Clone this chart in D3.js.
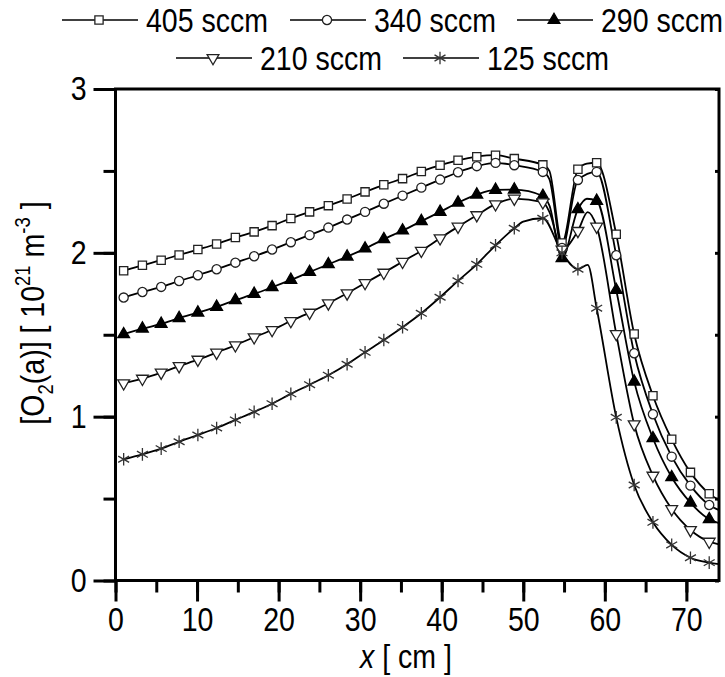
<!DOCTYPE html>
<html>
<head>
<meta charset="utf-8">
<script src="https://cdn.jsdelivr.net/npm/d3@7"></script>
<style>
  html, body { margin: 0; padding: 0; background: #fff; }
  svg text { font-family: "Liberation Sans", Arial, sans-serif; fill: #000; }
</style>
</head>
<body>
<div id="chart"></div>
<script>
// marker positions along the tube [cm], shared by every flow rate
const xs = [1.0, 3.3, 5.6, 7.8, 10.1, 12.4, 14.7, 17.0, 19.2, 21.5, 23.8, 26.1, 28.4, 30.6, 32.9,
  35.2, 37.5, 39.8, 42.0, 44.3, 46.6, 48.9, 52.4, 54.75, 56.7, 59.0, 61.4, 63.6, 65.9, 68.2, 70.5, 72.8];

const y405 = [1.891, 1.924, 1.955, 1.987, 2.02, 2.054, 2.093, 2.128, 2.166, 2.21, 2.25, 2.288, 2.329, 2.372, 2.415,
  2.453, 2.496, 2.535, 2.565, 2.587, 2.596, 2.575, 2.537, 2.06, 2.51, 2.55, 2.113, 1.505, 1.128, 0.862, 0.66, 0.53];
const y340 = [1.727, 1.761, 1.792, 1.828, 1.863, 1.90, 1.94, 1.979, 2.02, 2.065, 2.108, 2.154, 2.203, 2.25, 2.30,
  2.349, 2.398, 2.447, 2.492, 2.529, 2.549, 2.535, 2.494, 2.03, 2.445, 2.494, 1.985, 1.387, 1.015, 0.756, 0.579, 0.461];
const y290 = [1.503, 1.537, 1.566, 1.601, 1.635, 1.67, 1.711, 1.749, 1.79, 1.835, 1.883, 1.93, 1.977, 2.026, 2.083,
  2.136, 2.193, 2.25, 2.306, 2.355, 2.384, 2.386, 2.347, 1.967, 2.266, 2.317, 1.773, 1.214, 0.868, 0.63, 0.475, 0.374];
const y210 = [1.204, 1.232, 1.269, 1.309, 1.348, 1.391, 1.436, 1.485, 1.529, 1.584, 1.635, 1.692, 1.753, 1.816, 1.879,
  1.946, 2.013, 2.089, 2.16, 2.23, 2.297, 2.331, 2.309, 2.02, 2.134, 2.16, 1.505, 0.954, 0.64, 0.436, 0.308, 0.237];
const y125 = [0.74, 0.77, 0.805, 0.847, 0.888, 0.931, 0.98, 1.029, 1.079, 1.139, 1.195, 1.253, 1.32, 1.393, 1.468,
  1.546, 1.631, 1.729, 1.829, 1.93, 2.046, 2.15, 2.211, 2.0, 1.90, 1.662, 0.996, 0.583, 0.355, 0.217, 0.139, 0.109];

// unmarked vertices of the drawn curves [x, y]
const bend405 = [[53.2, 2.50], [57.8, 2.545], [74.0, 0.49]];
const bend340 = [[53.2, 2.45], [74.0, 0.43]];
const bend290 = [[53.2, 2.29], [57.8, 2.33], [74.0, 0.35]];
const bend210 = [[53.2, 2.25], [57.9, 2.248], [74.0, 0.22]];
const bend125 = [[50.0, 2.19], [57.9, 1.926], [74.0, 0.10]];

const seriesNames = ['405 sccm', '340 sccm', '290 sccm', '210 sccm', '125 sccm'];
const xTicks = [0, 10, 20, 30, 40, 50, 60, 70];
const yTicks = [0, 1, 2, 3];

const W = 725, H = 677;
const margin = { top: 89, right: 6, bottom: 96.5, left: 115.5 };
const FONT = '34px';
const SQ = 0.84; // horizontal squeeze, the source font is a narrow face

const svg = d3.select('#chart').append('svg')
  .attr('width', W)
  .attr('height', H);

const x = d3.scaleLinear().domain([0, 74]).range([margin.left, W - margin.right]);
const y = d3.scaleLinear().domain([0, 3]).range([H - margin.bottom, margin.top]);

// custom symbols
const asterisk = {
  draw(ctx, size) {
    const r = Math.sqrt(size) / 2;
    for (let k = 0; k < 3; k++) {
      const a = Math.PI / 2 + k * Math.PI / 3;
      ctx.moveTo(r * Math.cos(a), r * Math.sin(a));
      ctx.lineTo(-r * Math.cos(a), -r * Math.sin(a));
    }
  }
};
const triDown = {
  draw(ctx, size) {
    const s = Math.sqrt(size * 4 / Math.sqrt(3));
    const h = s * Math.sqrt(3) / 2;
    ctx.moveTo(-s / 2, -h / 3);
    ctx.lineTo(s / 2, -h / 3);
    ctx.lineTo(0, 2 * h / 3);
    ctx.closePath();
  }
};

const styles = [
  { type: d3.symbolSquare, size: 68, fill: '#fff', stroke: '#222' },
  { type: d3.symbolCircle, size: 66, fill: '#fff', stroke: '#222' },
  { type: d3.symbolTriangle, size: 60, fill: '#000', stroke: '#000' },
  { type: triDown, size: 60, fill: '#fff', stroke: '#222' },
  { type: asterisk, size: 160, fill: 'none', stroke: '#333' }
];

const ySets = [y405, y340, y290, y210, y125];
const bends = [bend405, bend340, bend290, bend210, bend125];

const series = seriesNames.map((name, i) => {
  const marks = xs.map((xv, j) => [xv, ySets[i][j]]);
  const path = marks.concat(bends[i]).sort((a, b) => a[0] - b[0]);
  return { name, marks, path, style: styles[i] };
});

const line = d3.line()
  .x(d => x(d[0]))
  .y(d => y(d[1]))
  .curve(d3.curveMonotoneX);

const plot = svg.append('g');
plot.append('clipPath').attr('id', 'clip')
  .append('rect')
  .attr('x', margin.left).attr('y', margin.top)
  .attr('width', W - margin.right - margin.left)
  .attr('height', H - margin.bottom - margin.top);

const inner = plot.append('g').attr('clip-path', 'url(#clip)');

inner.selectAll('.curve')
  .data(series)
  .join('path')
  .attr('class', 'curve')
  .attr('d', d => line(d.path))
  .attr('fill', 'none')
  .attr('stroke', '#000')
  .attr('stroke-width', 1.8);

series.forEach(s => {
  const sym = d3.symbol().type(s.style.type).size(s.style.size);
  inner.append('g').selectAll('path')
    .data(s.marks)
    .join('path')
    .attr('transform', d => `translate(${x(d[0])},${y(d[1])})`)
    .attr('d', sym())
    .attr('fill', s.style.fill)
    .attr('stroke', s.style.stroke)
    .attr('stroke-width', 1.3);
});

// axes
const xMinor = d3.range(0, 75, 5);
const yMinor = d3.range(0, 3.01, 0.5);

const xAxisMinor = d3.axisBottom(x).tickValues(xMinor).tickSize(12).tickFormat('');
const xAxis = d3.axisBottom(x).tickValues(xTicks).tickSize(21).tickPadding(5).tickFormat(d3.format('d'));
const yAxisMinor = d3.axisLeft(y).tickValues(yMinor).tickSize(12).tickFormat('');
const yAxis = d3.axisLeft(y).tickValues(yTicks).tickSize(22).tickPadding(7).tickFormat(d3.format('d'));
const yRight = d3.axisLeft(y).tickValues(yMinor).tickSize(4).tickFormat('');

function styleAxis(g) {
  g.select('.domain').remove();
  g.selectAll('line').attr('stroke', '#000').attr('stroke-width', 3);
  g.selectAll('text')
    .style('font-size', FONT)
    .attr('x', function () { return (+d3.select(this).attr('x') || 0) / SQ; })
    .attr('transform', `scale(${SQ},1)`);
}

svg.append('g').attr('transform', `translate(0,${H - margin.bottom})`).call(xAxisMinor).call(styleAxis);
svg.append('g').attr('transform', `translate(0,${H - margin.bottom})`).call(xAxis).call(styleAxis);
svg.append('g').attr('transform', `translate(${margin.left},0)`).call(yAxisMinor).call(styleAxis);
svg.append('g').attr('transform', `translate(${margin.left},0)`).call(yAxis).call(styleAxis);
svg.append('g').attr('transform', `translate(${W - margin.right},0)`).call(yRight).call(styleAxis);

// frame
svg.append('rect')
  .attr('x', margin.left).attr('y', margin.top)
  .attr('width', W - margin.right - margin.left)
  .attr('height', H - margin.bottom - margin.top)
  .attr('fill', 'none')
  .attr('stroke', '#000')
  .attr('stroke-width', 3);

// axis titles
const xt = svg.append('text')
  .attr('transform', `translate(406,668) scale(${SQ},1)`)
  .attr('text-anchor', 'middle')
  .style('font-size', FONT);
xt.append('tspan').style('font-style', 'italic').text('x');
xt.append('tspan').text(' [ cm ]');

const yt = svg.append('text')
  .attr('transform', `translate(44,313) rotate(-90) scale(${SQ},1)`)
  .attr('text-anchor', 'middle')
  .style('font-size', FONT);
yt.append('tspan').text('[O');
yt.append('tspan').attr('dy', 9).style('font-size', '22px').text('2');
yt.append('tspan').attr('dy', -9).text('(a)] [ 10');
yt.append('tspan').attr('dy', -14).style('font-size', '22px').text('21');
yt.append('tspan').attr('dy', 14).text(' m');
yt.append('tspan').attr('dy', -14).style('font-size', '22px').text('-3');
yt.append('tspan').attr('dy', 14).text(' ]');

// legend
const legendPos = [
  { x: 62, y: 20 }, { x: 290, y: 20 }, { x: 517, y: 20 },
  { x: 176, y: 58 }, { x: 403, y: 58 }
];
const legend = svg.append('g');
series.forEach((s, i) => {
  const p = legendPos[i];
  const g = legend.append('g').attr('transform', `translate(${p.x},${p.y})`);
  g.append('line').attr('x1', 0).attr('x2', 76).attr('y1', 0).attr('y2', 0)
    .attr('stroke', '#000').attr('stroke-width', 1.7);
  g.append('path')
    .attr('transform', 'translate(37,0)')
    .attr('d', d3.symbol().type(s.style.type).size(s.style.size)())
    .attr('fill', s.style.fill)
    .attr('stroke', s.style.stroke)
    .attr('stroke-width', 1.3);
  g.append('text')
    .attr('transform', `translate(84,0) scale(${SQ},1)`)
    .attr('dy', '0.36em')
    .style('font-size', FONT)
    .text(s.name);
});
</script>
</body>
</html>
